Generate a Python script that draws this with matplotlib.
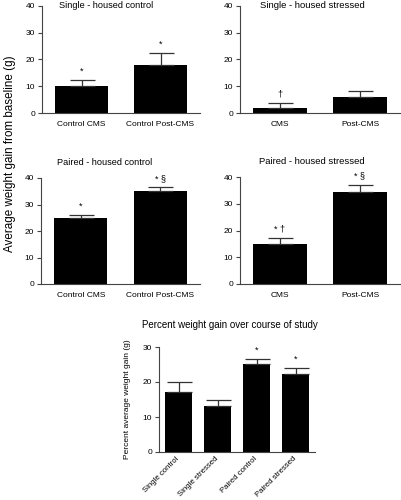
import numpy as np
import matplotlib
matplotlib.use("Agg")
import matplotlib.pyplot as plt
from matplotlib.transforms import ScaledTranslation

plt.rcParams['font.family'] = ['Liberation Sans', 'DejaVu Sans']

# panel data (means, upper SEM, significance marks)
sc_labels = ["Control CMS", "Control Post-CMS"]
sc_vals = [10, 18]
sc_err = [2.3, 4.6]
sc_marks = ["*", "*"]

ss_labels = ["CMS", "Post-CMS"]
ss_vals = [2, 6]
ss_err = [1.9, 2.2]
ss_marks = ["\u2020", ""]

pc_labels = ["Control CMS", "Control Post-CMS"]
pc_vals = [25, 35]
pc_err = [1.0, 1.5]
pc_marks = ["*", "* \u00a7"]

ps_labels = ["CMS", "Post-CMS"]
ps_vals = [15, 34.3]
ps_err = [2.3, 2.8]
ps_marks = ["* \u2020", "* \u00a7"]

pct_labels = ["Single control", "Single stressed", "Paired control", "Paired stressed"]
pct_vals = [17.2, 13.2, 25.1, 22.2]
pct_err = [2.9, 1.8, 1.6, 1.9]
pct_marks = ["", "", "*", "*"]


def panel(ax, labels, vals, errs, marks, ymax, yticks, rot=0):
    x = np.arange(len(vals))
    ax.bar(x, vals, width=0.67, color='black')
    ax.errorbar(x, vals, yerr=[np.zeros(len(errs)), errs], fmt='none',
                ecolor='#333333', elinewidth=0.9, capsize=9, capthick=0.9)
    for xi, v, e, m in zip(x, vals, errs, marks):
        if m:
            ax.annotate(m, xy=(xi, v + e), xytext=(0, 3), textcoords='offset points',
                        ha='center', va='bottom', fontsize=6.5)
    ax.set_xlim(-0.5, len(vals) - 0.5)
    ax.set_ylim(0, ymax)
    ax.set_yticks(yticks)
    ax.set_xticks(x)
    if rot:
        ax.set_xticklabels(labels, rotation=rot, ha='right', va='center',
                           rotation_mode='anchor', fontsize=5.6)
        shift = ScaledTranslation(4/100, 0, ax.figure.dpi_scale_trans)
        for lab in ax.get_xticklabels():
            lab.set_transform(lab.get_transform() + shift)
        ax.tick_params(axis='x', length=0, pad=4)
    else:
        ax.set_xticklabels(labels, fontsize=6)
        ax.tick_params(axis='x', length=0, pad=6)
    ax.tick_params(axis='y', length=3, width=0.8, labelsize=6, pad=2, color='#444444')
    for s in ['top', 'right']:
        ax.spines[s].set_visible(False)
    for s in ['left', 'bottom']:
        ax.spines[s].set_linewidth(0.8)
        ax.spines[s].set_color('#444444')


fig = plt.figure(figsize=(4.01, 5.00), dpi=100)

ax1 = fig.add_axes([42/401, 1 - 113/500, 158/401, 107/500])
ax2 = fig.add_axes([240/401, 1 - 113/500, 160/401, 107/500])
ax3 = fig.add_axes([41/401, 1 - 284/500, 159/401, 106/500])
ax4 = fig.add_axes([240/401, 1 - 284/500, 160/401, 107/500])
ax5 = fig.add_axes([159/401, 1 - 452/500, 156/401, 105/500])

panel(ax1, sc_labels, sc_vals, sc_err, sc_marks, 40, [0, 10, 20, 30, 40])
panel(ax2, ss_labels, ss_vals, ss_err, ss_marks, 40, [0, 10, 20, 30, 40])
panel(ax3, pc_labels, pc_vals, pc_err, pc_marks, 40, [0, 10, 20, 30, 40])
panel(ax4, ps_labels, ps_vals, ps_err, ps_marks, 40, [0, 10, 20, 30, 40])
panel(ax5, pct_labels, pct_vals, pct_err, pct_marks, 30, [0, 10, 20, 30], rot=45)

fig.text(106/401, 1 - 6/500, "Single - housed control", ha='center', va='center', fontsize=6.6)
fig.text(312/401, 1 - 6/500, "Single - housed stressed", ha='center', va='center', fontsize=6.8)
fig.text(105/401, 1 - 162/500, "Paired - housed control", ha='center', va='center', fontsize=6.6)
fig.text(312/401, 1 - 161/500, "Paired - housed stressed", ha='center', va='center', fontsize=6.8)
fig.text(230/401, 1 - 325/500, "Percent weight gain over course of study", ha='center', va='center', fontsize=7)

fig.text(10/401, 1 - 154/500, "Average weight gain from baseline (g)", rotation=90,
         ha='center', va='center', fontsize=8.4)
ax5.set_ylabel("Percent average weight gain (g)", fontsize=6, labelpad=8)

fig.savefig("out.png", dpi=100)
